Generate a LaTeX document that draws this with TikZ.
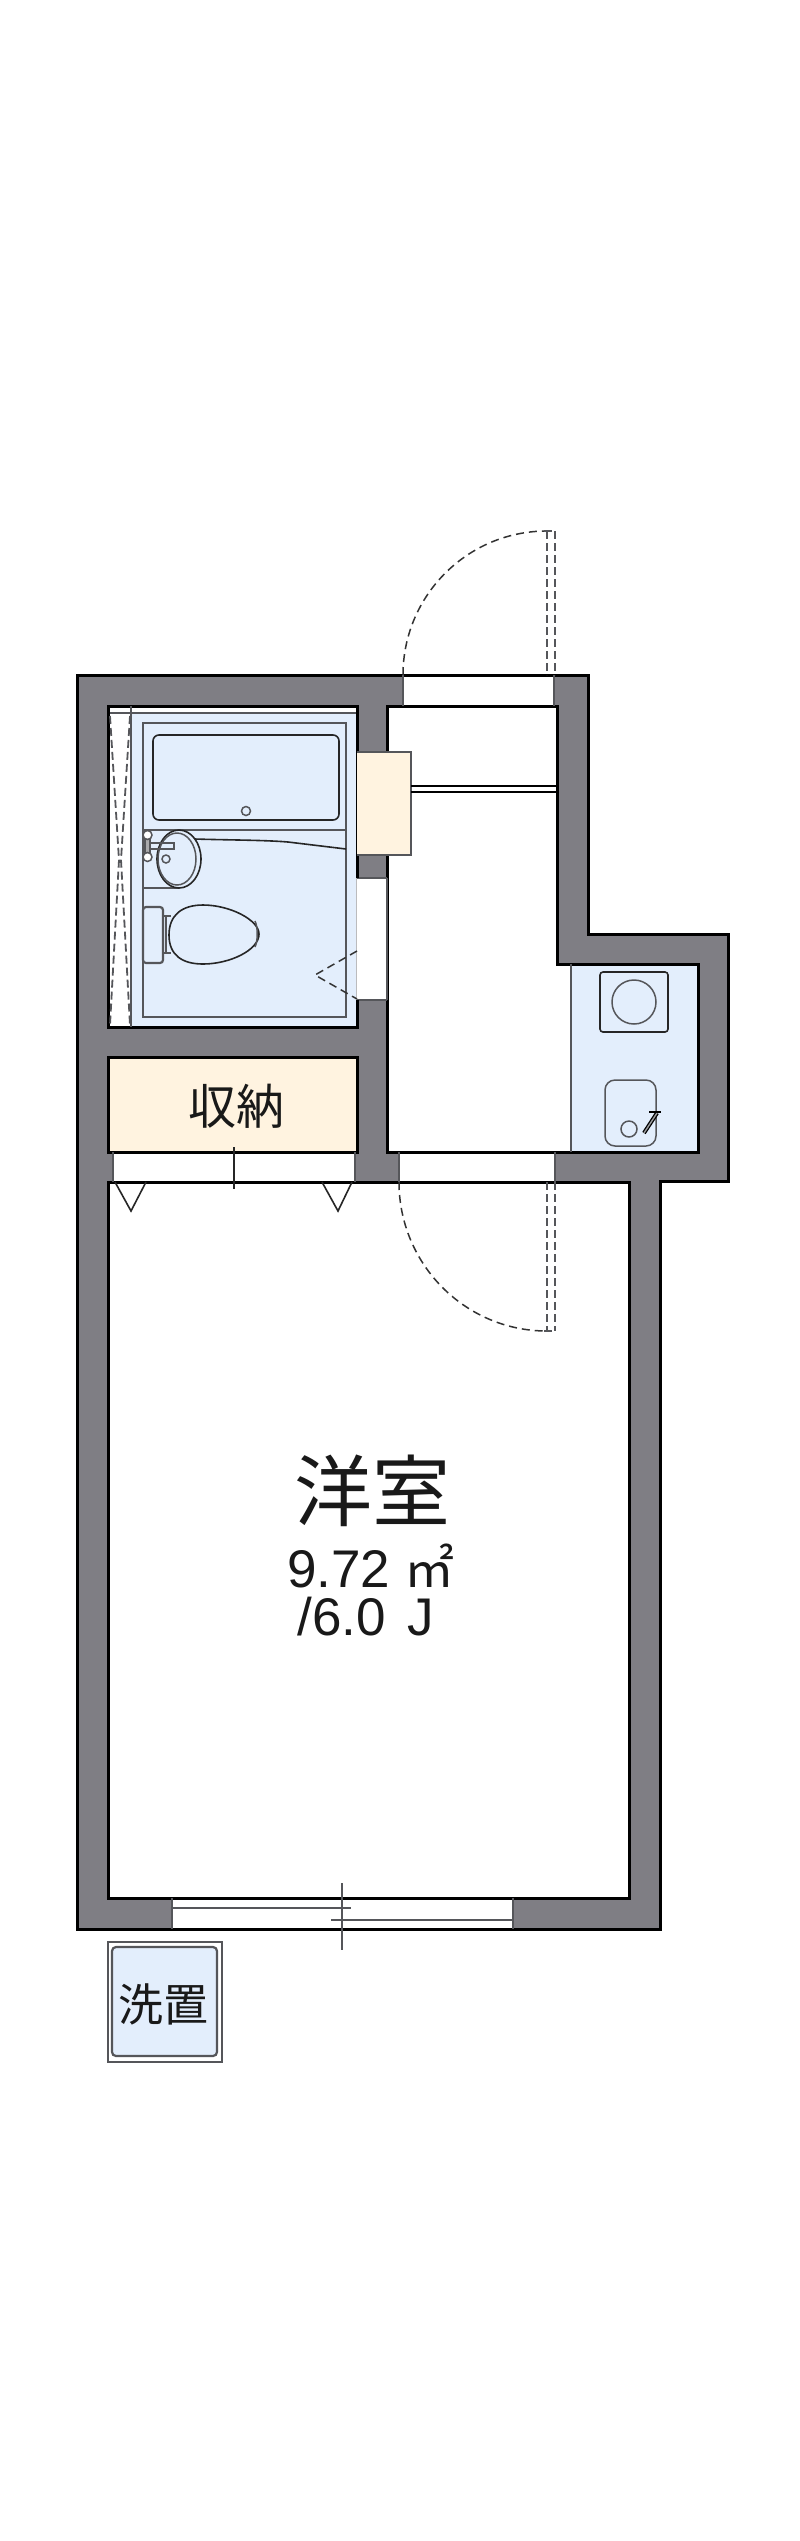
\documentclass[tikz,border=0pt]{standalone}
\usepackage{fontspec}
\setmainfont{Liberation Sans}
\newfontfamily\cjkfont{Noto Sans CJK JP}
\usepackage{tikz}
\definecolor{wallgray}{HTML}{7F7E84}
\definecolor{bathblue}{HTML}{E3EEFC}
\definecolor{storagecream}{HTML}{FFF3E0}
\definecolor{fixgray}{HTML}{55565A}

\begin{document}
\begin{tikzpicture}[
    x=1pt, y=-1pt,
    wallline/.style={draw=black, line width=3pt, line join=miter},
    fixline/.style={draw=black!85, line width=1.6pt},
    unitline/.style={draw=fixgray, line width=2.2pt},
    thinline/.style={draw=fixgray, line width=1.5pt},
    swingline/.style={draw=black!80, line width=1.5pt, dash pattern=on 8pt off 5pt},
    leafline/.style={draw=fixgray, line width=1.8pt, dash pattern=on 8pt off 4pt},
    roomlabel/.style={inner sep=0pt, anchor=base, text=black!90},
    ]

    \useasboundingbox (0,0) rectangle (800,2541);

    %Walls
    \path[wallline, fill=wallgray] (77,675) -- (588,675) -- (588,934) -- (728,934) -- (728,1181) -- (660,1181)
        -- (660,1929) -- (77,1929) -- cycle;

    %Rooms
    \path[wallline, fill=white] (387,706) -- (557,706) -- (557,964) -- (698,964) -- (698,1152) -- (387,1152) -- cycle;
    \path[wallline, fill=white] (108,1182) -- (629,1182) -- (629,1898) -- (108,1898) -- cycle;
    \path[wallline, fill=white] (108,706) rectangle (357,1027);
    \path[wallline, fill=storagecream] (108,1057) rectangle (357,1152);

    %Openings
    \path[fill=white] (404,676.5) rectangle (553,704.5);
    \draw[thinline] (403,675) -- (403,706) (554,675) -- (554,706);
    \path[fill=white] (400,1153.5) rectangle (554,1180.5);
    \draw[thinline] (399,1152) -- (399,1182) (555,1152) -- (555,1182);
    \path[fill=white] (113,1153.5) rectangle (355,1180.5);
    \draw[thinline] (113,1152) -- (113,1182) (355,1152) -- (355,1182);
    \path[fill=white] (172,1899.5) rectangle (513,1927.5);
    \draw[thinline] (172,1898) -- (172,1929) (513,1898) -- (513,1929);
    \path[fill=white] (355,878) rectangle (387,1000);
    \draw[thinline] (357,878) -- (387,878) (357,1000) -- (387,1000) (387,878) -- (387,1000);

    %Bath
    \path[fill=bathblue] (131,714) rectangle (355.5,1025.5);
    \draw[thinline] (110,713) -- (355.5,713);
    \draw[thinline] (131,706) -- (131,1027);
    \draw[black, line width=3pt] (357,706) -- (357,878) (357,1000) -- (357,1027);
    \draw[fixgray!40, line width=1pt] (356,878) -- (356,1000);
    \draw[leafline] (110,716) -- (119,860) -- (110,1025);
    \draw[leafline] (130,716) -- (121,860) -- (130,1025);
    \draw[unitline] (143,723) rectangle (346,1017);
    \draw[fixline, rounded corners=6pt] (153,735) rectangle (339,820);
    \draw[thinline] (246,811) circle[radius=4.5];
    \draw[unitline] (143,830) -- (346,830);

    %Basin
    \draw[fixline] (195,839) .. controls (225,840) and (265,840) .. (288,842) -- (346,849);
    \draw[unitline] (143,888) -- (179,888);
    \path[fixline, fill=bathblue] (179,859) ellipse[x radius=22, y radius=29];
    \draw[thinline] (177,859) ellipse[x radius=19, y radius=26];
    \draw[thinline] (148,843) -- (174,843) -- (174,849) -- (148,849);
    \path[unitline, fill=fixgray!50] (145,836) rectangle (150,857);
    \path[thinline, fill=white] (147.5,835) circle[radius=4.5];
    \path[thinline, fill=white] (147.5,857) circle[radius=4.5];
    \draw[thinline] (166,859) circle[radius=4];

    %Toilet
    \path[unitline, fill=bathblue, rounded corners=3pt] (143,907) rectangle (163,963);
    \draw[thinline] (163,916) -- (171,916) (163,953) -- (171,953);
    \path[fixline, fill=bathblue] (169,935) .. controls (169,915) and (182,905) .. (203,905)
        .. controls (230,905) and (259,920) .. (259,934)
        .. controls (259,950) and (230,964) .. (203,964)
        .. controls (182,964) and (169,955) .. (169,935) -- cycle;
    \draw[thinline] (166,917) -- (166,952);
    \draw[thinline] (255,921) .. controls (258,927) and (258,941) .. (255,947);

    %Bath door
    \draw[swingline] (357,951) -- (315,975) -- (357,999);

    %Hall
    \path[fill=storagecream, draw=fixgray, line width=1.8pt] (357,752) -- (411,752) -- (411,855) -- (357,855);
    \draw[black, line width=1.5pt] (411,786) -- (557,786) (411,792) -- (557,792);

    %Kitchen
    \path[fill=bathblue] (571,965.5) rectangle (696.5,1150.5);
    \draw[thinline] (571,964) -- (571,1152);
    \path[fixline, fill=bathblue, rounded corners=3pt] (600,972) rectangle (668,1032);
    \draw[thinline] (634,1002) circle[radius=22];
    \draw[thinline, rounded corners=10pt] (605,1080) rectangle (656,1146);
    \draw[thinline] (629,1129) circle[radius=8];
    \draw[black, line width=4pt] (644,1133) -- (657,1113);
    \draw[fixgray!60, line width=1.4pt] (644,1133) -- (657,1113);
    \draw[black, line width=1.8pt] (649,1112) -- (661,1112);

    %Storage doors
    \draw[fixline] (115,1182) -- (131,1211) -- (146,1182);
    \draw[fixline] (322,1182) -- (338,1211) -- (352,1182);
    \draw[fixline] (234,1147) -- (234,1189);

    %Entrance doors
    \draw[swingline] (403,675) .. controls (403,595.5) and (467.5,531) .. (547,531);
    \draw[leafline] (547,531) -- (547,675);
    \draw[leafline] (555,531) -- (555,675);
    \draw[leafline] (544,531) -- (555,531);
    \draw[swingline] (399,1182) .. controls (399,1264) and (465,1331) .. (547,1331);
    \draw[leafline] (547,1182) -- (547,1331);
    \draw[leafline] (555,1182) -- (555,1331);
    \draw[leafline] (544,1331) -- (555,1331);

    %Window
    \draw[thinline] (172,1908) -- (351,1908);
    \draw[thinline] (331,1920) -- (513,1920);
    \draw[thinline] (342,1883) -- (342,1950);

    %Washer
    \draw[draw=fixgray, line width=1.6pt, fill=white] (108,1942) rectangle (222,2062);
    \path[unitline, fill=bathblue, rounded corners=4pt] (112,1947) rectangle (217,2056);

    %Nodes
    \node[roomlabel] (storage) at (236,1124) {\cjkfont\fontsize{48}{48}\selectfont 収納};
    \node[roomlabel] (westernroom) at (372,1520) {\cjkfont\fontsize{78}{78}\selectfont 洋室};
    \node[roomlabel] (roomarea) at (371,1587) {\fontsize{53}{53}\selectfont 9.72 {\cjkfont\fontsize{50}{50}\selectfont ㎡}};
    \node[roomlabel] (roomjo) at (366,1635) {\fontsize{53}{53}\selectfont /6.0\kern7pt\ J};
    \node[roomlabel] (washer) at (163,2021) {\cjkfont\fontsize{45}{45}\selectfont 洗置};

\end{tikzpicture}
\end{document}
